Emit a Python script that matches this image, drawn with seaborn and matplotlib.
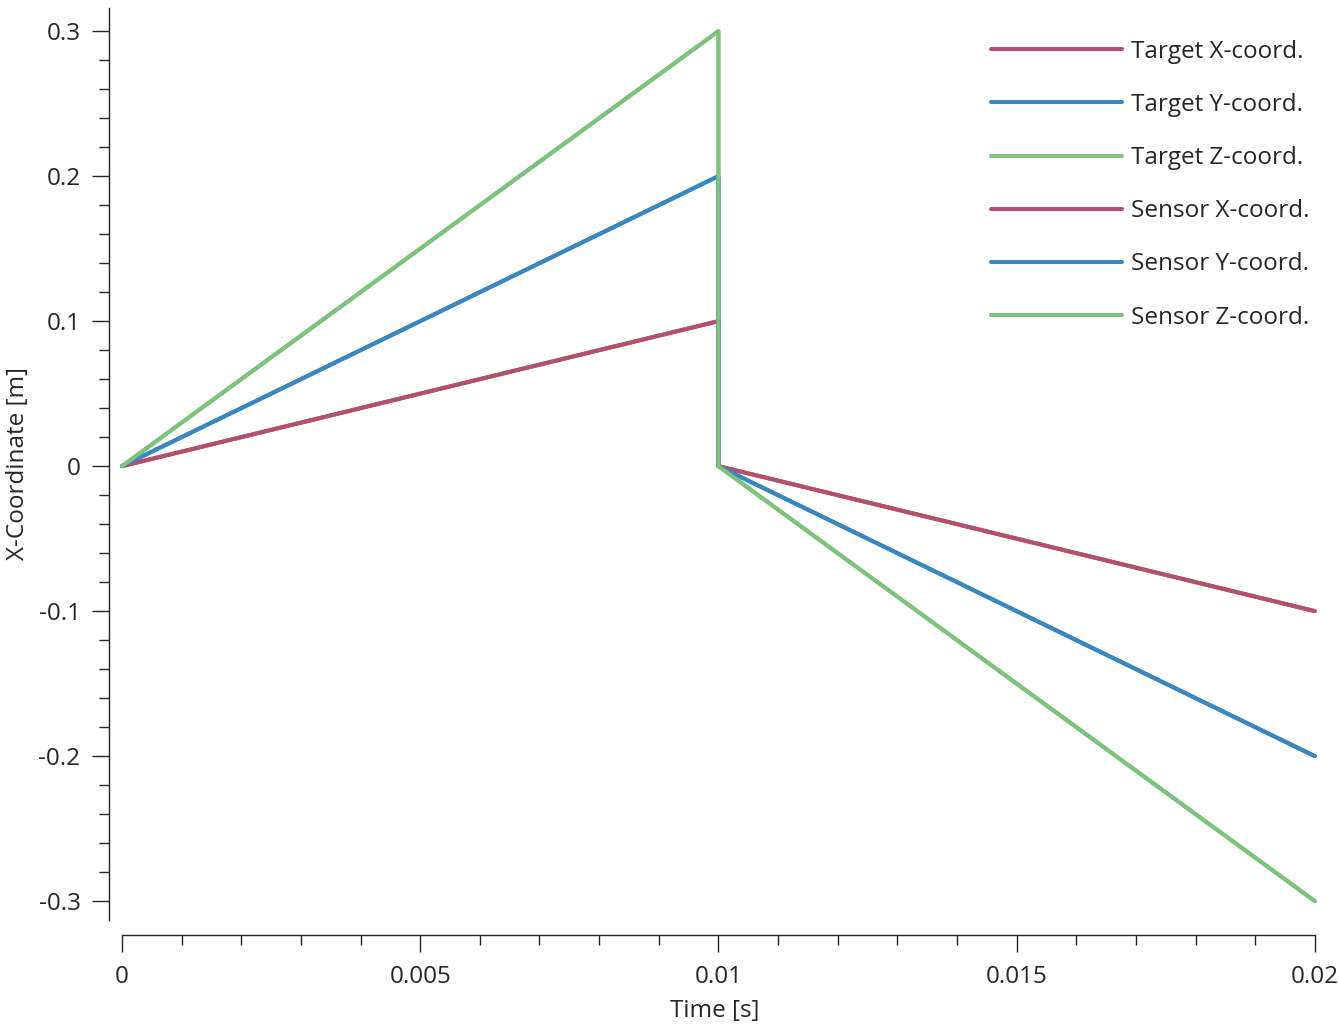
import matplotlib
matplotlib.use("Agg")
import matplotlib.pyplot as plt
import seaborn as sns
import pandas as pd
from matplotlib.ticker import MultipleLocator

time = [0.0, 0.01, 0.01, 0.02]
target_x = [0.0, 0.1, 0.0, -0.1]
target_y = [0.0, 0.2, 0.0, -0.2]
target_z = [0.0, 0.3, 0.0, -0.3]
sensor_x = [0.0, 0.1, 0.0, -0.1]
sensor_y = [0.0, 0.2, 0.0, -0.2]
sensor_z = [0.0, 0.3, 0.0, -0.3]

series_names = ["Target X-coord.", "Target Y-coord.", "Target Z-coord.",
                "Sensor X-coord.", "Sensor Y-coord.", "Sensor Z-coord."]
series_vals = [target_x, target_y, target_z, sensor_x, sensor_y, sensor_z]
colors = ["#b4506c", "#3a86bf", "#7dc27d", "#b4506c", "#3a86bf", "#7dc27d"]

x_ticks = [0, 0.005, 0.01, 0.015, 0.02]
x_ticklabels = ["0", "0.005", "0.01", "0.015", "0.02"]
y_ticks = [-0.3, -0.2, -0.1, 0, 0.1, 0.2, 0.3]
y_ticklabels = ["-0.3", "-0.2", "-0.1", "0", "0.1", "0.2", "0.3"]

sns.set_theme(style="ticks")
plt.rcParams["font.family"] = ["Open Sans", "DejaVu Sans"]

FS = 17.5
TXT = "#262626"

rows = []
for name, vals in zip(series_names, series_vals):
    for t, v in zip(time, vals):
        rows.append({"Time": t, "Value": v, "Series": name})
df = pd.DataFrame(rows)

fig = plt.figure(figsize=(13.39, 10.24), dpi=100)
ax = fig.add_axes([0.0814, 0.1016, 0.905, 0.8906])

sns.lineplot(data=df, x="Time", y="Value", hue="Series", hue_order=series_names,
             palette=colors, sort=False, estimator=None,
             linewidth=2.9, ax=ax, legend=True)

ax.set_xlim(-0.000218, 0.0201)
ax.set_ylim(-0.313, 0.316)

ax.set_xticks(x_ticks)
ax.set_xticklabels(x_ticklabels)
ax.set_yticks(y_ticks)
ax.set_yticklabels(y_ticklabels)
ax.xaxis.set_minor_locator(MultipleLocator(0.001))
ax.yaxis.set_minor_locator(MultipleLocator(0.02))

for s in ["top", "right"]:
    ax.spines[s].set_visible(False)
ax.spines["bottom"].set_position(("outward", 11))
ax.spines["bottom"].set_bounds(0, 0.02)
for s in ["left", "bottom"]:
    ax.spines[s].set_color(TXT)
    ax.spines[s].set_linewidth(1.0)

ax.tick_params(axis="y", which="major", length=12, width=1.0, color=TXT,
               labelsize=FS, labelcolor=TXT, pad=8.5)
ax.tick_params(axis="x", which="major", length=12, width=1.0, color=TXT,
               labelsize=FS, labelcolor=TXT, pad=9.5)
ax.tick_params(axis="both", which="minor", length=7, width=1.0, color=TXT)

ax.set_xlabel("Time [s]", fontsize=FS, color=TXT, labelpad=7)
ax.set_ylabel("X-Coordinate [m]", fontsize=FS, color=TXT, labelpad=6)

leg = ax.legend(loc="upper right", frameon=False, fontsize=FS, handlelength=5.4,
                labelspacing=1.2, handletextpad=0.37, borderaxespad=0,
                bbox_to_anchor=(1319 / 1339, 1 - 30 / 1024),
                bbox_transform=fig.transFigure)
for line in leg.get_lines():
    line.set_linewidth(2.9)
for t in leg.get_texts():
    t.set_color(TXT)

fig.savefig("out.png", dpi=100)
